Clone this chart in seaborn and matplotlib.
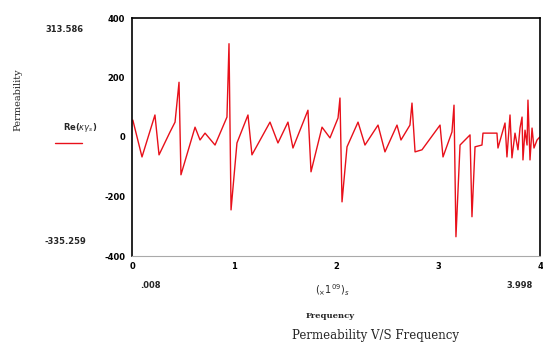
import matplotlib
matplotlib.use("Agg")
import matplotlib.pyplot as plt
import seaborn as sns
import pandas as pd

sns.set_theme(style="white")
plt.rcParams['font.family'] = ['DejaVu Sans']

freq = [0.008, 0.098, 0.225, 0.265, 0.373, 0.422, 0.461, 0.480, 0.618, 0.667,
        0.716, 0.814, 0.931, 0.951, 0.971, 1.029, 1.137, 1.176, 1.353, 1.431,
        1.529, 1.578, 1.725, 1.755, 1.863, 1.941, 2.020, 2.039, 2.059, 2.108,
        2.216, 2.284, 2.412, 2.480, 2.598, 2.637, 2.725, 2.745, 2.775, 2.843,
        3.020, 3.049, 3.137, 3.157, 3.176, 3.216, 3.314, 3.333, 3.363, 3.431,
        3.441, 3.578, 3.588, 3.657, 3.676, 3.706, 3.725, 3.755, 3.784, 3.804,
        3.824, 3.833, 3.853, 3.873, 3.882, 3.902, 3.922, 3.941, 3.971, 3.998]
perm = [57, -67, 74, -60, 17, 50, 184, -127, 33, -10,
        13, -27, 67, 313.586, -245, -20, 74, -60, 50, -20,
        50, -37, 90, -117, 33, -3, 64, 131, -218, -33,
        50, -27, 40, -50, 40, -10, 40, 114, -50, -43,
        40, -67, 17, 107, -335.259, -27, 7, -268, -33, -27,
        13, 13, -37, 47, -67, 74, -70, 13, -43, 30,
        67, -77, 23, -27, 124, -77, 30, -37, -10, 0]

yticks = [-400, -200, 0, 200, 400]
xticks = [0, 1, 2, 3, 4]

df = pd.DataFrame({"Frequency": freq, "Permeability": perm})

fig = plt.figure(figsize=(5.43, 3.45), dpi=100)
ax = fig.add_axes([132/543, 1-256/345, 408/543, 238/345])
sns.lineplot(data=df, x="Frequency", y="Permeability", ax=ax, sort=False,
             estimator=None, color="#e8101a", lw=1.0)
ax.set_xlim(0, 4)
ax.set_ylim(-400, 400)
ax.set_yticks(yticks)
ax.set_yticklabels([str(t) for t in yticks], fontsize=6, fontweight="bold")
ax.set_xticks(xticks)
ax.set_xticklabels([str(t) for t in xticks], fontsize=6, fontweight="bold")
ax.tick_params(axis="y", direction="out", length=4, width=0.8, pad=1, colors="black")
ax.tick_params(axis="x", direction="in", length=4, width=0.8, pad=4, colors="black")
ax.set_xlabel("")
ax.set_ylabel("")
for s in ["left", "right", "top"]:
    ax.spines[s].set_color("black")
    ax.spines[s].set_linewidth(1.2)
ax.spines["bottom"].set_color("#aaaaaa")
ax.spines["bottom"].set_linewidth(0.8)

fig.text(18/543, 1-100/345, "Permeability", rotation=90, ha="center", va="center",
         fontsize=7, family="DejaVu Serif")
fig.text(65/543, 1-30/345, "313.586", ha="center", va="center", fontsize=6, fontweight="bold")
fig.text(65/543, 1-242/345, "-335.259", ha="center", va="center", fontsize=6, fontweight="bold")
fig.text(80/543, 1-128/345, r"Re($\kappa\gamma_s$)", ha="center", va="center", fontsize=6, fontweight="bold")
fig.add_artist(plt.Line2D([55/543, 82/543], [1-143/345, 1-143/345], color="#e8101a", lw=1.0))
fig.text(150/543, 1-285/345, ".008", ha="center", va="center", fontsize=6, fontweight="bold")
fig.text(520/543, 1-285/345, "3.998", ha="center", va="center", fontsize=6, fontweight="bold")
fig.text(332/543, 1-290/345, r"$(_{\times}1^{09})_{s}$", ha="center", va="center", fontsize=7)
fig.text(330/543, 1-316/345, "Frequency", ha="center", va="center", fontsize=6,
         fontweight="bold", family="DejaVu Serif")
fig.text(375/543, 1-336/345, "Permeability V/S Frequency", ha="center", va="center",
         fontsize=8.5, family="DejaVu Serif")

fig.savefig("out.png", dpi=100)
